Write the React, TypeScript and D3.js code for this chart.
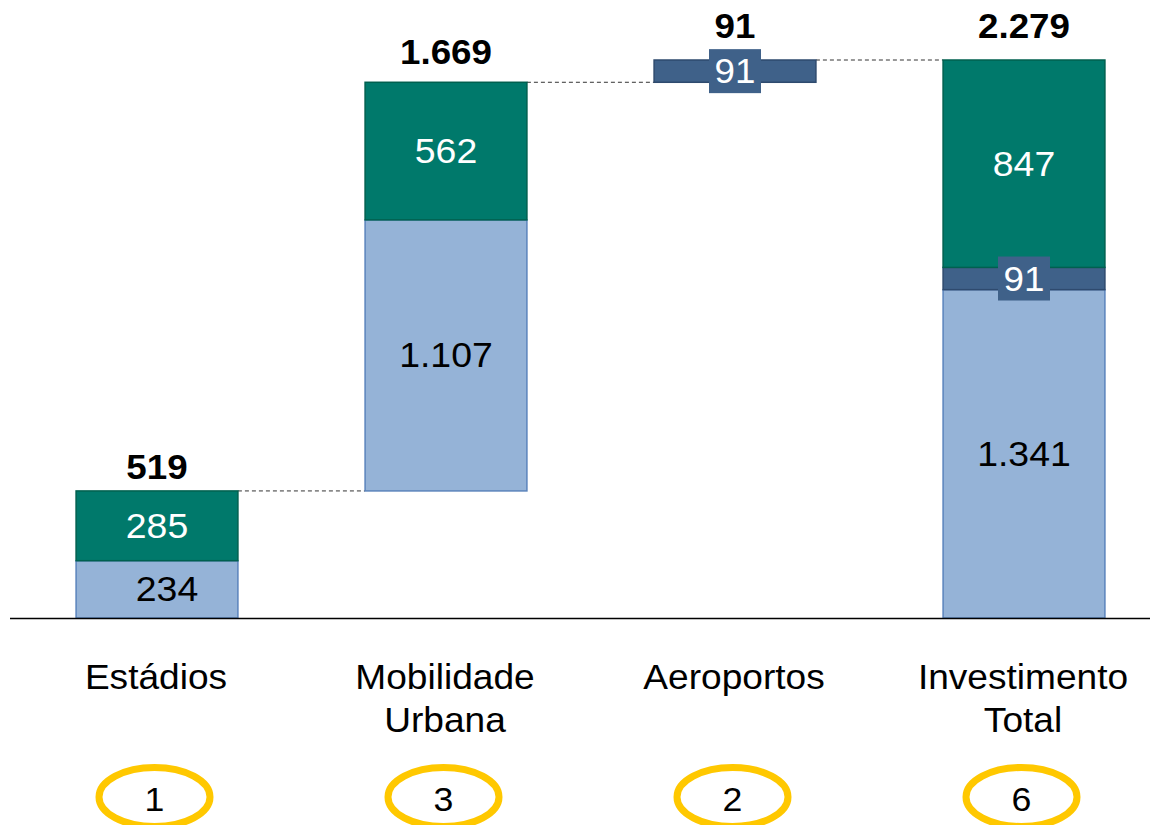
import React from "react";
import * as d3 from "d3";

const categories = ["Estádios", "Mobilidade Urbana", "Aeroportos", "Investimento Total"];
const categoryLines = [["Estádios"], ["Mobilidade", "Urbana"], ["Aeroportos"], ["Investimento", "Total"]];
const lightValues = [234, 1107, 0, 1341];
const darkBlueValues = [0, 0, 91, 91];
const tealValues = [285, 562, 0, 847];
const totals = ["519", "1.669", "91", "2.279"];
const badgeNumbers = ["1", "3", "2", "6"];
const fmt = (v: number) => d3.format(",")(v).replace(/,/g, ".");

// layout: gap between bar top and bold total label baseline
const totalLabelGap = [12, 18, 22, 22];

const W = 1150, H = 825;
const LIGHT = "#95B3D7", LIGHT_STROKE = "#5B84BC";
const TEAL = "#00796B", TEAL_STROKE = "#00604F";
const DARK = "#3F6189", DARK_STROKE = "#2E4A6E";
const GOLD = "#FFC800";
const FONT = "Liberation Sans, Arial, sans-serif";

function SText({ x, y, sx = 1, children, ...rest }: any) {
  return (
    <text transform={`translate(${x},${y}) scale(${sx},1)`} textAnchor="middle" {...rest}>{children}</text>
  );
}

export default function App() {
  const totalsNum = categories.map((_, i) => lightValues[i] + darkBlueValues[i] + tealValues[i]);
  const bases: number[] = [];
  let run = 0;
  categories.forEach((_, i) => {
    if (i === categories.length - 1) bases.push(0);
    else { bases.push(run); run += totalsNum[i]; }
  });
  const maxV = d3.max(categories.map((_, i) => bases[i] + totalsNum[i])) as number;
  const y = d3.scaleLinear().domain([0, maxV]).range([618, 60]);
  const x = d3.scaleBand().domain(categories).range([12.5, 1168.5]).paddingInner(0.44).paddingOuter(0.22);
  const bw = x.bandwidth();

  const segs: any[] = [];
  categories.forEach((c, i) => {
    let b = bases[i];
    const parts = [
      { v: lightValues[i], fill: LIGHT, stroke: LIGHT_STROKE, kind: "light" },
      { v: darkBlueValues[i], fill: DARK, stroke: DARK_STROKE, kind: "dark" },
      { v: tealValues[i], fill: TEAL, stroke: TEAL_STROKE, kind: "teal" },
    ];
    parts.forEach((p) => {
      if (p.v > 0) {
        segs.push({ c, i, y0: b, y1: b + p.v, ...p });
        b += p.v;
      }
    });
  });

  return (
    <svg width={W} height={H} style={{ display: "block", position: "absolute", left: 0, top: 0 }} fontFamily={FONT}>
      <rect width={W} height={H} fill="#fff" />
      {categories.slice(0, -1).map((c, i) => {
        const top = bases[i] + totalsNum[i];
        const nx = x(categories[i + 1])!;
        return (
          <line key={"con" + i} x1={x(c)! + bw} x2={nx} y1={y(top)} y2={y(top)}
            stroke="#333" strokeWidth={1} strokeDasharray="4,3" />
        );
      })}
      {segs.map((s, k) => (
        <rect key={k} x={x(s.c)!} y={y(s.y1)} width={bw} height={y(s.y0) - y(s.y1)}
          fill={s.fill} stroke={s.stroke} strokeWidth={1.5} />
      ))}
      {segs.map((s, k) => {
        const cx = x(s.c)! + bw / 2;
        const cy = (y(s.y0) + y(s.y1)) / 2;
        if (s.kind === "dark") {
          return (
            <g key={"l" + k}>
              <rect x={cx - 26} y={cy - 22} width={52} height={44} fill={DARK} />
              <SText x={cx} y={cy + 12} sx={1.05} fontSize={35} fill="#fff">{fmt(s.v)}</SText>
            </g>
          );
        }
        const dx = s.kind === "light" && s.i === 0 ? 10 : 0;
        return (
          <SText key={"l" + k} x={cx + dx} y={cy + 12} sx={1.07} fontSize={35}
            fill={s.kind === "teal" ? "#fff" : "#000"}>{fmt(s.v)}</SText>
        );
      })}
      {categories.map((c, i) => (
        <SText key={"t" + i} x={x(c)! + bw / 2} y={y(bases[i] + totalsNum[i]) - totalLabelGap[i]} sx={1.05}
          fontSize={35} fontWeight="bold" fill="#000">{totals[i]}</SText>
      ))}
      <line x1={10} x2={1150} y1={618.5} y2={618.5} stroke="#000" strokeWidth={1.5} />
      {categories.map((c, i) =>
        categoryLines[i].map((ln, j) => (
          <SText key={"c" + i + "-" + j} x={x(c)! + bw / 2 - 1} y={689 + j * 43} sx={1.06} fontSize={35} fill="#000">{ln}</SText>
        ))
      )}
      {categories.map((c, i) => {
        const cx = x(c)! + bw / 2 - 2.5;
        return (
          <g key={"b" + i}>
            <ellipse cx={cx} cy={797} rx={55.5} ry={29.5} fill="none" stroke={GOLD} strokeWidth={7} />
            <SText x={cx} y={811} sx={1.05} fontSize={34} fill="#000">{badgeNumbers[i]}</SText>
          </g>
        );
      })}
    </svg>
  );
}
